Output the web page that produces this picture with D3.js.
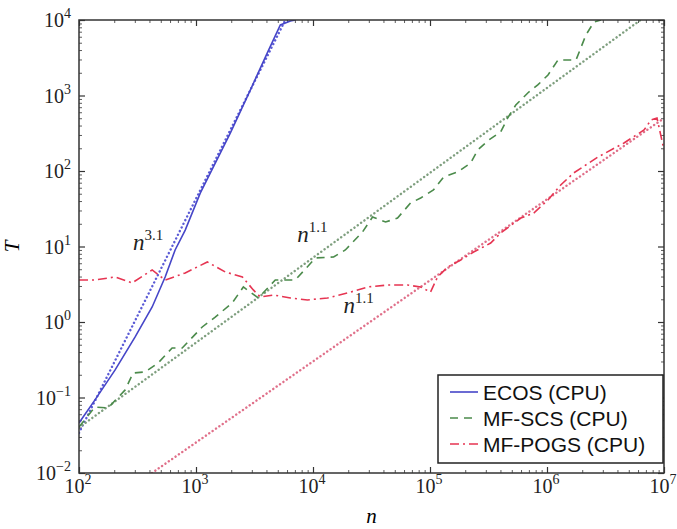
<!DOCTYPE html>
<html>
<head>
<meta charset="utf-8">
<script src="https://cdn.jsdelivr.net/npm/d3@7"></script>
<style>
  body { margin: 0; background: #fff; }
  .tick line { stroke: #333; }
  .domain { display: none; }
</style>
</head>
<body>
<div id="chart"></div>
<script>
const width = 677;
const height = 529;
const margin = { top: 20, right: 13, bottom: 56, left: 79 };

// measured runs (n, T)
const ecosN = [100, 137, 203, 301, 422, 545, 663, 809, 1087, 1963, 2911, 4070, 5260, 6410, 7060];
const ecosT = [0.046, 0.093, 0.23, 0.63, 1.58, 3.95, 9.0, 16.5, 51, 318, 1180, 3660, 8590, 9700, 10000];

const scsN = [100, 137, 177, 248, 290, 367, 474, 625, 762, 1130, 1460, 2040, 2540, 3410, 4760, 7060,
  10500, 15000, 18900, 26500, 32300, 41700, 52800, 68200, 83200, 107000, 131000, 172000, 223000,
  256000, 318000, 402000, 461000, 541000, 685000, 834000, 1.02e6, 1.24e6, 1.77e6, 2.15e6, 2.52e6, 2.89e6];
const scsT = [0.0406, 0.0748, 0.0726, 0.126, 0.211, 0.218, 0.286, 0.453, 0.453, 0.859, 1.16, 1.79,
  2.91, 2.08, 3.60, 3.60, 7.05, 7.26, 9.0, 15.6, 24.6, 21.1, 23.8, 37.7, 43.9, 56.0, 83.4, 97.0,
  128, 190, 258, 329, 504, 748, 1080, 1380, 1870, 2950, 2950, 6320, 9420, 10000];

const pogsN = [100, 137, 203, 284, 422, 545, 809, 1250, 1780, 2490, 3090, 3550, 4590, 6410, 8960,
  13300, 19700, 29300, 43400, 64300, 83200, 101000, 116000, 142000, 183000, 236000, 330000, 402000,
  597000, 771000, 1.02e6, 1.31e6, 1.69e6, 2.72e6, 4.55e6, 6.75e6, 7.74e6, 8.71e6, 1e7];
const pogsT = [3.60, 3.60, 3.95, 3.29, 4.89, 3.60, 4.46, 6.24, 4.59, 3.95, 2.66, 2.14, 2.28, 2.08,
  1.96, 2.08, 2.42, 2.91, 3.09, 3.09, 2.91, 2.49, 3.95, 5.35, 6.62, 8.45, 11.1, 15.1, 23.8, 27.8,
  41.3, 65.3, 94.2, 153, 235, 349, 473, 504, 190];

// power-law fits, end points (n, T)
const ecosFitN = [100, 5800];
const ecosFitT = [0.034, 10000];
const scsFitN = [100, 6.3e6];
const scsFitT = [0.04, 10000];
const pogsFitN = [420, 1e7];
const pogsFitT = [0.01, 500];

// fit annotations: position (n, T) and exponent
const fitLabels = [
  { n: 290, T: 9.0, exp: "3.1" },
  { n: 7350, T: 11.5, exp: "1.1" },
  { n: 18200, T: 1.32, exp: "1.1" }
];

const xExps = [2, 3, 4, 5, 6, 7];
const yExps = [-2, -1, 0, 1, 2, 3, 4];

const series = [
  { name: "ECOS (CPU)", n: ecosN, T: ecosT, fitN: ecosFitN, fitT: ecosFitT,
    color: "#4646c8", fitColor: "#5c5cd6", dash: null },
  { name: "MF-SCS (CPU)", n: scsN, T: scsT, fitN: scsFitN, fitT: scsFitT,
    color: "#4b8b4b", fitColor: "#7f9f7f", dash: "8,6" },
  { name: "MF-POGS (CPU)", n: pogsN, T: pogsT, fitN: pogsFitN, fitT: pogsFitT,
    color: "#e63552", fitColor: "#e0708a", dash: "9,4,2,4" }
];

const iw = width - margin.left - margin.right;
const ih = height - margin.top - margin.bottom;

const svg = d3.select("#chart")
    .append("svg")
    .attr("width", width)
    .attr("height", height)
  .append("g")
    .attr("transform", `translate(${margin.left},${margin.top})`);

const x = d3.scaleLog().domain([1e2, 1e7]).range([0, iw]);
const y = d3.scaleLog().domain([1e-2, 1e4]).range([ih, 0]);

svg.append("clipPath").attr("id", "clip")
  .append("rect").attr("width", iw).attr("height", ih);

// minor tick values
const minorX = [];
for (let e = 2; e < 7; e++) for (let k = 2; k < 10; k++) minorX.push(k * Math.pow(10, e));
const minorY = [];
for (let e = -2; e < 4; e++) for (let k = 2; k < 10; k++) minorY.push(k * Math.pow(10, e));
const majorX = xExps.map(e => Math.pow(10, e));
const majorY = yExps.map(e => Math.pow(10, e));

// ticks inside on all four sides
const axes = [
  [() => d3.axisBottom(x), `translate(0,${ih})`, majorX, minorX],
  [() => d3.axisTop(x), "translate(0,0)", majorX, minorX],
  [() => d3.axisLeft(y), "translate(0,0)", majorY, minorY],
  [() => d3.axisRight(y), `translate(${iw},0)`, majorY, minorY]
];
axes.forEach(([mk, tr, maj, min]) => {
  svg.append("g").attr("transform", tr)
    .call(mk().tickValues(maj).tickSize(-6).tickFormat(""))
    .selectAll("line").attr("stroke-width", 1.2);
  svg.append("g").attr("transform", tr)
    .call(mk().tickValues(min).tickSize(-3).tickFormat(""))
    .selectAll("line").attr("stroke-width", 0.8);
});

// lines
const line = d3.line().x(d => x(d[0])).y(d => y(d[1]));
const plot = svg.append("g").attr("clip-path", "url(#clip)");

series.forEach(s => {
  plot.append("path")
    .datum(s.fitN.map((n, i) => [n, s.fitT[i]]))
    .attr("d", line)
    .attr("fill", "none")
    .attr("stroke", s.fitColor)
    .attr("stroke-width", 2.4)
    .attr("stroke-linecap", "round")
    .attr("stroke-dasharray", "0.1,4");
});
series.forEach(s => {
  plot.append("path")
    .datum(s.n.map((n, i) => [n, s.T[i]]))
    .attr("d", line)
    .attr("fill", "none")
    .attr("stroke", s.color)
    .attr("stroke-width", 1.6)
    .attr("stroke-dasharray", s.dash);
});

// frame
svg.append("rect")
  .attr("width", iw).attr("height", ih)
  .attr("fill", "none").attr("stroke", "#333").attr("stroke-width", 1.5);

// tick labels
const serif = "Liberation Serif, DejaVu Serif, serif";
function powLabel(sel, e) {
  sel.append("tspan").text("10");
  sel.append("tspan").attr("dy", -9).attr("font-size", 14)
    .text(String(e).replace("-", "\u2212"));
}
xExps.forEach(e => {
  const t = svg.append("text")
    .attr("x", x(Math.pow(10, e)) - 1)
    .attr("y", ih + 20)
    .attr("text-anchor", "middle")
    .attr("font-family", serif).attr("font-size", 20).attr("fill", "#222");
  powLabel(t, e);
});
yExps.forEach(e => {
  const t = svg.append("text")
    .attr("x", -8)
    .attr("y", y(Math.pow(10, e)) + 7)
    .attr("text-anchor", "end")
    .attr("font-family", serif).attr("font-size", 20).attr("fill", "#222");
  powLabel(t, e);
});

// axis labels
svg.append("text")
  .attr("x", iw / 2).attr("y", ih + 50)
  .attr("text-anchor", "middle")
  .attr("font-family", serif).attr("font-style", "italic").attr("font-size", 21)
  .text("n");
svg.append("text")
  .attr("transform", `translate(${-60},${ih / 2}) rotate(-90)`)
  .attr("text-anchor", "middle")
  .attr("font-family", serif).attr("font-style", "italic").attr("font-size", 21)
  .text("T");

// fit annotations
fitLabels.forEach(d => {
  const t = svg.append("text")
    .attr("x", x(d.n)).attr("y", y(d.T))
    .attr("font-family", serif).attr("font-size", 23).attr("fill", "#222");
  t.append("tspan").attr("font-style", "italic").text("n");
  t.append("tspan").attr("dy", -10).attr("font-size", 15).text(d.exp);
});

// legend
const lg = svg.append("g").attr("transform", `translate(${438 - margin.left},${375 - margin.top})`);
lg.append("rect")
  .attr("width", 225).attr("height", 88)
  .attr("fill", "#fff").attr("stroke", "#222").attr("stroke-width", 1.5);
series.forEach((s, i) => {
  const yy = 17 + i * 26;
  lg.append("line")
    .attr("x1", 12).attr("x2", 40).attr("y1", yy).attr("y2", yy)
    .attr("stroke", s.color).attr("stroke-width", 1.6)
    .attr("stroke-dasharray", s.dash);
  lg.append("text")
    .attr("x", 45).attr("y", yy + 7.5)
    .attr("font-family", "Liberation Sans, Arial, sans-serif")
    .attr("font-size", 21).attr("fill", "#111")
    .text(s.name);
});
</script>
</body>
</html>
